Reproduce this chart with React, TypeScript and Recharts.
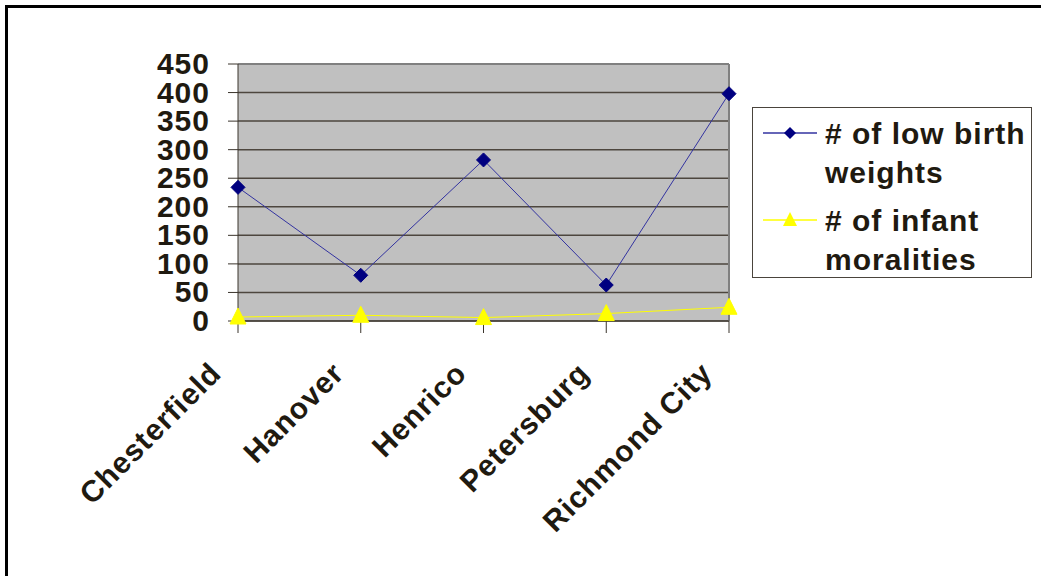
import {
  LineChart,
  Line,
  XAxis,
  YAxis,
  CartesianGrid,
  Legend,
  ReferenceLine,
} from "recharts";

const counties = ["Chesterfield", "Hanover", "Henrico", "Petersburg", "Richmond City"];
const lowBirthWeights = [234, 80, 282, 63, 398];
const infantMortalities = [7, 10, 6, 13, 24];
const yTicks = [0, 50, 100, 150, 200, 250, 300, 350, 400, 450];

const data = counties.map((name, i) => ({
  name,
  low: lowBirthWeights[i],
  infant: infantMortalities[i],
}));

const FONT = "'Liberation Sans', Arial, sans-serif";
const TEXT = "#1f1a10";
const AXIS = "#3a342c";

const Diamond = (props: any) => {
  const { cx, cy } = props;
  if (cx == null || cy == null) return null;
  const r = 7;
  return (
    <polygon
      points={`${cx},${cy - r} ${cx + r},${cy} ${cx},${cy + r} ${cx - r},${cy}`}
      fill="#000080"
      stroke="#000080"
    />
  );
};

const Triangle = (props: any) => {
  const { cx, cy } = props;
  if (cx == null || cy == null) return null;
  return (
    <polygon
      points={`${cx},${cy - 9} ${cx + 8},${cy + 7} ${cx - 8},${cy + 7}`}
      fill="#ffff00"
      stroke="#ffff00"
    />
  );
};

const YTick = ({ x, y, payload }: any) => (
  <text
    x={x}
    y={y}
    dy={10}
    textAnchor="end"
    fontFamily={FONT}
    fontWeight="bold"
    fontSize={30}
    letterSpacing={1}
    fill={TEXT}
  >
    {payload.value}
  </text>
);

const XTick = ({ x, y, payload }: any) => (
  <g transform={`translate(${x - 15},${y + 42}) rotate(-45)`}>
    <text
      x={0}
      y={0}
      textAnchor="end"
      fontFamily={FONT}
      fontWeight="bold"
      fontSize={30}
      letterSpacing={1}
      fill={TEXT}
    >
      {payload.value}
    </text>
  </g>
);

const LegendBox = () => {
  const items = [
    { label: "# of low birth weights", color: "#3333a0", marker: "diamond" },
    { label: "# of infant moralities", color: "#ffff00", marker: "triangle" },
  ];
  return (
    <div
      style={{
        border: "1.5px solid #4a443c",
        width: 280,
        height: 171,
        boxSizing: "border-box",
        background: "#fff",
        paddingTop: 6,
      }}
    >
      {items.map((it) => (
        <div key={it.label} style={{ display: "flex", alignItems: "flex-start", marginBottom: 9 }}>
          <svg width={72} height={40} style={{ flex: "none" }}>
            <line x1={10} x2={64} y1={19} y2={19} stroke={it.color} strokeWidth={1.5} />
            {it.marker === "diamond" ? (
              <polygon points="37,13 43,19 37,25 31,19" fill="#000080" />
            ) : (
              <polygon points="37,11 44,25 30,25" fill="#ffff00" />
            )}
          </svg>
          <div
            style={{
              width: 205,
              fontFamily: FONT,
              fontWeight: "bold",
              fontSize: 30,
              letterSpacing: 1,
              lineHeight: "39px",
              color: TEXT,
            }}
          >
            {it.label}
          </div>
        </div>
      ))}
    </div>
  );
};

export default function App() {
  return (
    <div
      style={{
        position: "absolute",
        left: 0,
        top: 0,
        width: 1041,
        height: 576,
        overflow: "hidden",
        background: "#fff",
      }}
    >
      <div
        style={{
          position: "absolute",
          left: 5,
          top: 5,
          width: 1100,
          height: 700,
          borderLeft: "3px solid #000",
          borderTop: "3px solid #000",
        }}
      />
      <div style={{ position: "absolute", left: 0, top: 0 }}>
        <LineChart
          width={1041}
          height={576}
          data={data}
          margin={{ top: 64, right: 312, left: 0, bottom: 0 }}
        >
          <CartesianGrid
            vertical={false}
            fill="#c0c0c0"
            stroke="#4d463e"
            strokeWidth={1.5}
          />
          <XAxis
            dataKey="name"
            height={255}
            interval={0}
            tickSize={12}
            tickMargin={0}
            stroke={AXIS}
            tick={<XTick />}
          />
          <YAxis
            domain={[0, 450]}
            ticks={yTicks}
            width={238}
            tickSize={10}
            tickMargin={18}
            stroke={AXIS}
            interval={0}
            tick={<YTick />}
          />
          <ReferenceLine y={450} stroke="#808080" strokeWidth={2} />
          <ReferenceLine x="Richmond City" stroke="#808080" strokeWidth={2} />
          {/* horizontal + middle so the legend takes no room from the plot */}
          <Legend
            verticalAlign="middle"
            align="center"
            layout="horizontal"
            wrapperStyle={{ left: 752, top: 107, width: 280, height: 171 }}
            content={<LegendBox />}
          />
          <Line
            dataKey="low"
            name="# of low birth weights"
            stroke="#3333a0"
            strokeWidth={1}
            dot={<Diamond />}
            activeDot={false}
            isAnimationActive={false}
          />
          <Line
            dataKey="infant"
            name="# of infant moralities"
            stroke="#ffff00"
            strokeWidth={1}
            dot={<Triangle />}
            activeDot={false}
            isAnimationActive={false}
          />
        </LineChart>
      </div>
    </div>
  );
}
